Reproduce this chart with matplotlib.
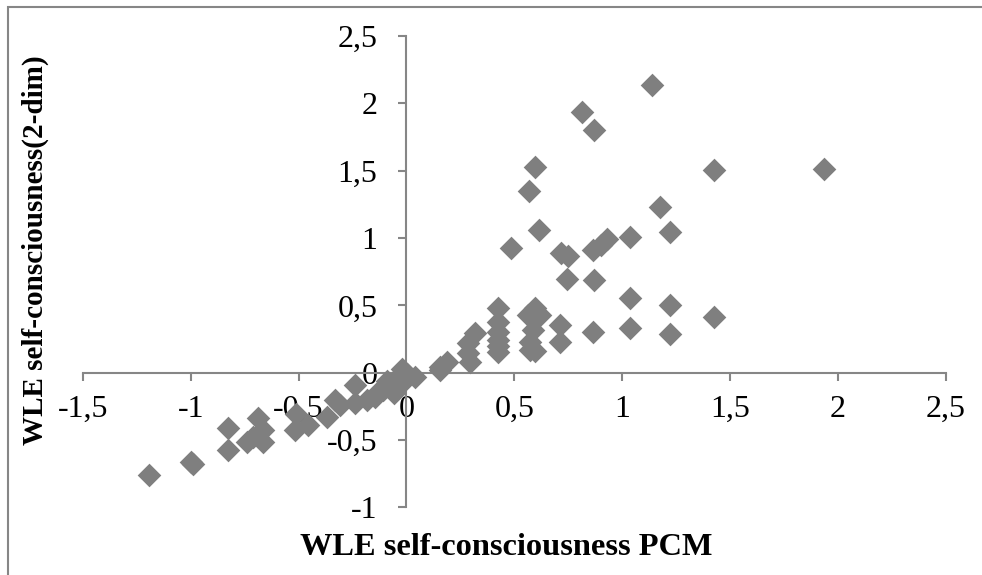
import matplotlib
matplotlib.use("Agg")
import matplotlib.pyplot as plt
from matplotlib.patches import Rectangle
from matplotlib.ticker import FuncFormatter

# WLE estimates: PCM (x) against the two-dimensional model (y)
pcm = [1.14, 0.813, 0.87, 0.596, 1.428, 1.936, 0.568, 1.177, 0.613, 1.221,
       1.037, 0.486, 0.929, 0.90, 0.866, 0.717, 0.75, 0.745, 0.87, 1.037,
       1.221, 1.428, 1.037, 0.867, 1.221, 0.712, 0.712,
       0.426, 0.426, 0.426, 0.426, 0.426, 0.426,
       0.565, 0.596, 0.62, 0.588, 0.572, 0.572, 0.596,
       0.318, 0.287, 0.287, 0.294, 0.186, 0.155, 0.155,
       -1.194, -1.001, -0.99, -0.826, -0.826, -0.741, -0.687, -0.664, -0.664,
       -0.71, -0.517, -0.51, -0.455, -0.37, -0.332, -0.31, -0.239, -0.239,
       -0.185, -0.146, -0.108, -0.09, -0.06, -0.03, -0.022, 0.0, 0.001,
       0.039, -0.053, -0.123]
twodim = [2.14, 1.935, 1.80, 1.526, 1.506, 1.516, 1.35, 1.229, 1.06, 1.043,
          1.01, 0.924, 0.993, 0.95, 0.91, 0.887, 0.867, 0.696, 0.69, 0.553,
          0.503, 0.41, 0.33, 0.305, 0.285, 0.354, 0.23,
          0.478, 0.379, 0.305, 0.243, 0.20, 0.15,
          0.43, 0.478, 0.43, 0.317, 0.23, 0.169, 0.16,
          0.293, 0.218, 0.144, 0.082, 0.082, 0.045, 0.02,
          -0.76, -0.661, -0.68, -0.413, -0.574, -0.513, -0.339, -0.426, -0.513,
          -0.48, -0.426, -0.31, -0.389, -0.327, -0.203, -0.24, -0.091, -0.227,
          -0.203, -0.178, -0.129, -0.06, -0.15, -0.09, 0.03, -0.04, -0.01,
          -0.03, -0.054, -0.13]

x_ticks = [-1.5, -1, -0.5, 0, 0.5, 1, 1.5, 2, 2.5]
y_ticks = [-1, -0.5, 0, 0.5, 1, 1.5, 2, 2.5]

plt.rcParams['font.family'] = ['Liberation Serif', 'DejaVu Serif']
axis_grey = '#868686'

fig = plt.figure(figsize=(9.82, 5.75), dpi=100)
ax = fig.add_axes([0.0845, 0.1177, 0.8785, 0.8196])

ax.scatter(pcm, twodim, marker='D', s=145, color='#7f7f7f', linewidths=0, zorder=3)

ax.set_xlim(-1.5, 2.5)
ax.set_ylim(-1, 2.5)
ax.set_xticks(x_ticks)
ax.set_yticks(y_ticks)

# comma decimal separator
fmt = FuncFormatter(lambda v, p: ('%g' % v).replace('.', ','))
ax.xaxis.set_major_formatter(fmt)
ax.yaxis.set_major_formatter(fmt)

# axes cross at the origin
ax.spines['left'].set_position(('data', 0))
ax.spines['bottom'].set_position(('data', 0))
ax.spines['right'].set_visible(False)
ax.spines['top'].set_visible(False)
for side in ['left', 'bottom']:
    ax.spines[side].set_color(axis_grey)
    ax.spines[side].set_linewidth(1.5)

ax.tick_params(axis='x', direction='out', length=6, width=1.5, color=axis_grey,
               labelsize=23, pad=10)
ax.tick_params(axis='y', direction='out', length=6, width=1.5, color=axis_grey,
               labelsize=23, pad=15)

fig.text(0.515, 0.047, 'WLE self-consciousness PCM', ha='center', va='center',
         fontsize=23.3, fontweight='bold')
fig.text(0.036, 0.565, 'WLE self-consciousness(2-dim)', ha='center', va='center',
         rotation=90, fontsize=21, fontweight='bold')

# chart area border
fig.patches.append(Rectangle((8 / 982, -0.1), 1.2, 1.1 - 7 / 575,
                             transform=fig.transFigure, fill=False,
                             edgecolor=axis_grey, linewidth=1.5))

fig.savefig('out.png', dpi=100)
